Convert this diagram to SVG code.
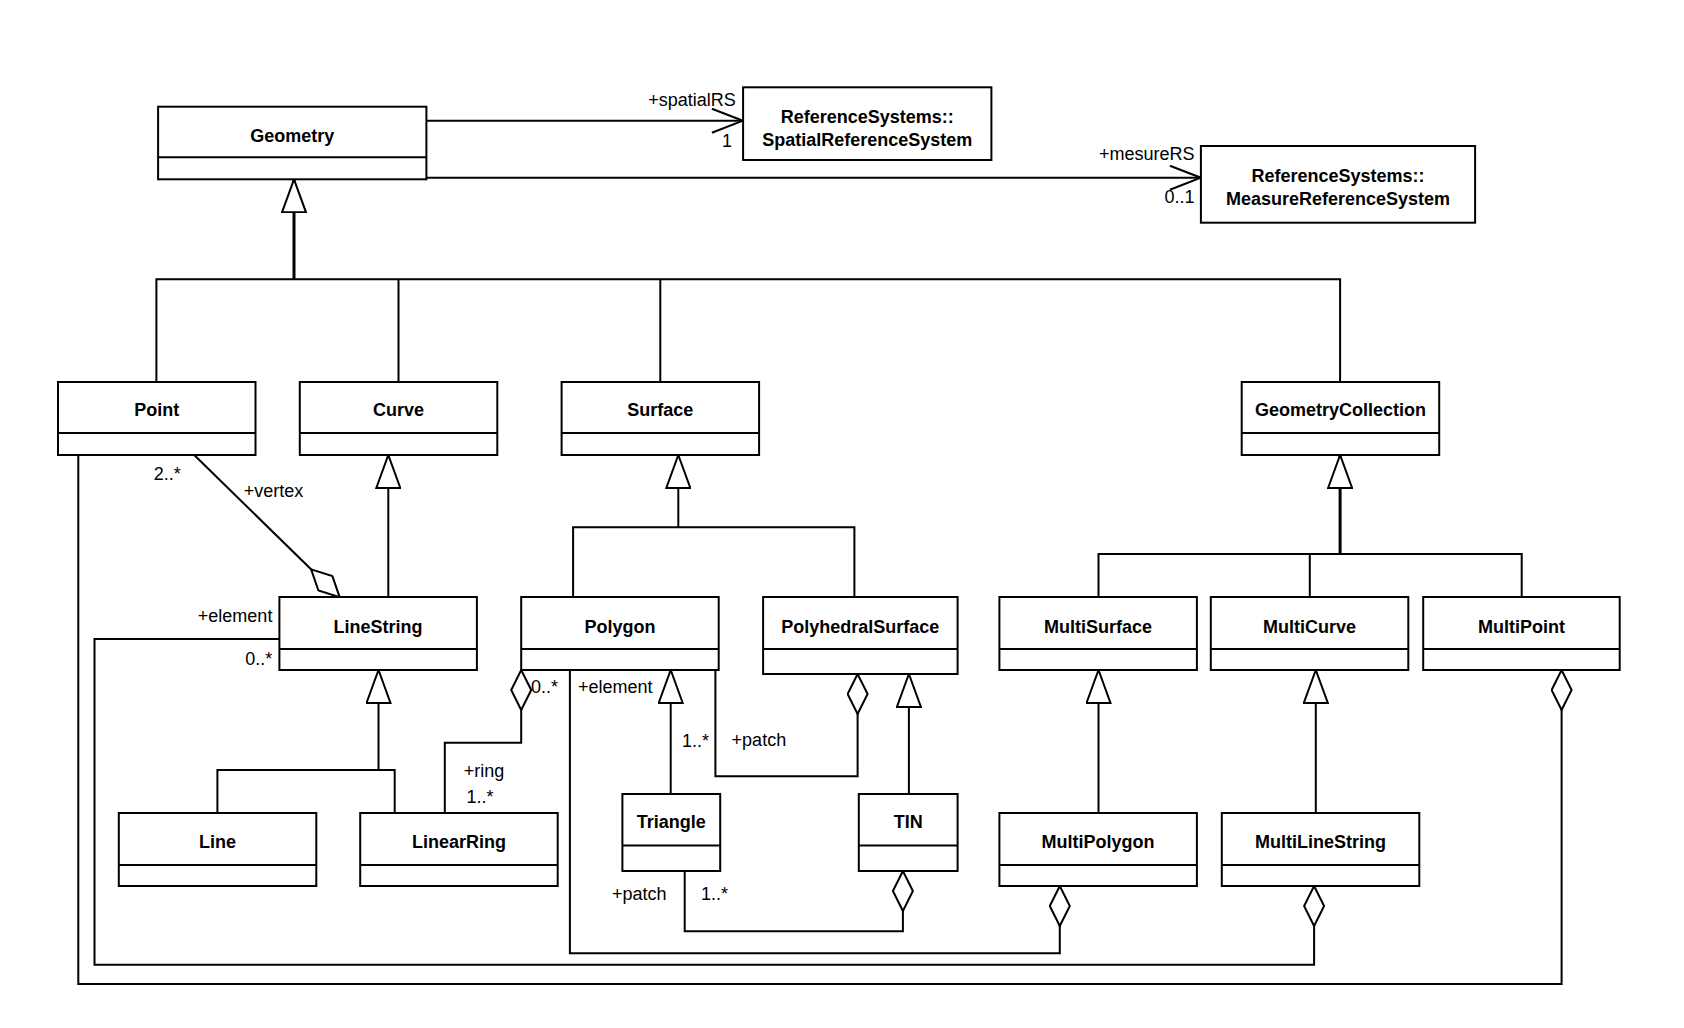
<svg xmlns="http://www.w3.org/2000/svg" width="1684" height="1028" viewBox="0 0 1684 1028">
<style>
.box{fill:#fff;stroke:#000;stroke-width:2}
.div{stroke:#000;stroke-width:2}
.name{font-family:"Liberation Sans",Arial,sans-serif;font-size:18px;font-weight:bold;text-anchor:middle;fill:#000}
.lbl{font-family:"Liberation Sans",Arial,sans-serif;font-size:18px;fill:#000}
.c{fill:none;stroke:#000;stroke-width:2}
.thick{stroke-width:3}
.gen{marker-end:url(#tri)}
.agg{marker-end:url(#dia)}
.nav{marker-end:url(#open)}
</style>
<defs>
<marker id="tri" viewBox="-1 -1 35 26" refX="33" refY="12" markerWidth="35" markerHeight="26" markerUnits="userSpaceOnUse" orient="auto">
<path d="M0,0 L33,12 L0,24 Z" fill="#fff" stroke="#000" stroke-width="2"/>
</marker>
<marker id="dia" viewBox="-1 -1 42 22" refX="40" refY="10" markerWidth="42" markerHeight="22" markerUnits="userSpaceOnUse" orient="auto">
<path d="M0,10 L20,0 L40,10 L20,20 Z" fill="#fff" stroke="#000" stroke-width="2"/>
</marker>
<marker id="open" viewBox="-1 -1 33 26" refX="31" refY="12" markerWidth="33" markerHeight="26" markerUnits="userSpaceOnUse" orient="auto">
<path d="M0,0 L31,12 L0,24" fill="none" stroke="#000" stroke-width="2"/>
</marker>
</defs>
<rect width="1684" height="1028" fill="#fff"/>
<g id="connectors">
<path class="c nav" d="M426.4,120.7 H742.9"/>
<path class="c nav" d="M426.4,177.7 H1200.9"/>
<path class="c thick gen" d="M294,279.3 V179.3"/>
<path class="c" d="M156.4,382 V279.3 H1340.1 V382 M398.5,382 V279.3 M660.3,382 V279.3"/>
<path class="c gen" d="M388.3,597 V455"/>
<path class="c gen" d="M678.3,527.3 V455"/>
<path class="c" d="M573.1,597 V527.3 H854.4 V597"/>
<path class="c thick gen" d="M1340.1,554 V455"/>
<path class="c" d="M1098.5,597 V554 H1521.7 V597 M1309.8,597 V554"/>
<path class="c gen" d="M378.5,770 V670"/>
<path class="c" d="M217.4,813 V770 H394.7 V813"/>
<path class="c gen" d="M670.7,794 V670"/>
<path class="c gen" d="M908.9,794 V674"/>
<path class="c gen" d="M1098.5,813 V670"/>
<path class="c gen" d="M1315.8,813 V670"/>
<path class="c agg" d="M194.2,455 L339.7,597.3"/>
<path class="c agg" d="M444.8,813 V742.7 H521.2 V670"/>
<path class="c agg" d="M715.4,670 V776.3 H857.6 V674"/>
<path class="c agg" d="M684.7,871 V931.3 H902.9 V871"/>
<path class="c agg" d="M569.9,670 V953.3 H1059.8 V886"/>
<path class="c agg" d="M279.4,639 H94.5 V964.7 H1314.1 V886"/>
<path class="c agg" d="M78.3,455 V984 H1561.6 V670"/>
</g>
<g id="labels">
<text class="lbl" x="735.9" y="105.5" text-anchor="end">+spatialRS</text>
<text class="lbl" x="732" y="147" text-anchor="end">1</text>
<text class="lbl" x="1194.5" y="159.5" text-anchor="end">+mesureRS</text>
<text class="lbl" x="1194.5" y="203" text-anchor="end">0..1</text>
<text class="lbl" x="167.2" y="479.5" text-anchor="middle">2..*</text>
<text class="lbl" x="243.8" y="496.5">+vertex</text>
<text class="lbl" x="272.4" y="622" text-anchor="end">+element</text>
<text class="lbl" x="272.4" y="664.5" text-anchor="end">0..*</text>
<text class="lbl" x="531.1" y="692.8">0..*</text>
<text class="lbl" x="577.9" y="692.8">+element</text>
<text class="lbl" x="682" y="747">1..*</text>
<text class="lbl" x="731.6" y="745.8">+patch</text>
<text class="lbl" x="463.7" y="777">+ring</text>
<text class="lbl" x="466.4" y="803">1..*</text>
<text class="lbl" x="612" y="899.5">+patch</text>
<text class="lbl" x="700.9" y="899.5">1..*</text>
</g>
<g id="Geometry"><rect class="box" x="158.1" y="106.7" width="268.3" height="72.6"/><line class="div" x1="158.1" y1="157.3" x2="426.4" y2="157.3"/><text class="name" x="292.3" y="141.5">Geometry</text></g>
<g id="SpatialReferenceSystem"><rect class="box" x="743.1" y="87.3" width="248.3" height="72.7"/><text class="name" x="867.3" y="122.5">ReferenceSystems::</text><text class="name" x="867.3" y="145.5">SpatialReferenceSystem</text></g>
<g id="MeasureReferenceSystem"><rect class="box" x="1200.9" y="146" width="274.2" height="76.7"/><text class="name" x="1338" y="181.5">ReferenceSystems::</text><text class="name" x="1338" y="204.5">MeasureReferenceSystem</text></g>
<g id="Point"><rect class="box" x="58" y="382" width="197.5" height="73"/><line class="div" x1="58" y1="433" x2="255.5" y2="433"/><text class="name" x="156.7" y="416">Point</text></g>
<g id="Curve"><rect class="box" x="299.8" y="382" width="197.5" height="73"/><line class="div" x1="299.8" y1="433" x2="497.3" y2="433"/><text class="name" x="398.5" y="416">Curve</text></g>
<g id="Surface"><rect class="box" x="561.6" y="382" width="197.5" height="73"/><line class="div" x1="561.6" y1="433" x2="759.1" y2="433"/><text class="name" x="660.3" y="416">Surface</text></g>
<g id="GeometryCollection"><rect class="box" x="1241.7" y="382" width="197.5" height="73"/><line class="div" x1="1241.7" y1="433" x2="1439.2" y2="433"/><text class="name" x="1340.4" y="416">GeometryCollection</text></g>
<g id="LineString"><rect class="box" x="279.4" y="597" width="197.5" height="73"/><line class="div" x1="279.4" y1="649" x2="476.9" y2="649"/><text class="name" x="378.1" y="632.5">LineString</text></g>
<g id="Polygon"><rect class="box" x="521.2" y="597" width="197.5" height="73"/><line class="div" x1="521.2" y1="649" x2="718.7" y2="649"/><text class="name" x="619.9" y="632.5">Polygon</text></g>
<g id="PolyhedralSurface"><rect class="box" x="763.1" y="597" width="194.5" height="77"/><line class="div" x1="763.1" y1="649" x2="957.6" y2="649"/><text class="name" x="860.3" y="632.5">PolyhedralSurface</text></g>
<g id="MultiSurface"><rect class="box" x="999.4" y="597" width="197.5" height="73"/><line class="div" x1="999.4" y1="649" x2="1196.9" y2="649"/><text class="name" x="1098.1" y="632.5">MultiSurface</text></g>
<g id="MultiCurve"><rect class="box" x="1210.8" y="597" width="197.5" height="73"/><line class="div" x1="1210.8" y1="649" x2="1408.3" y2="649"/><text class="name" x="1309.5" y="632.5">MultiCurve</text></g>
<g id="MultiPoint"><rect class="box" x="1423.2" y="597" width="196.5" height="73"/><line class="div" x1="1423.2" y1="649" x2="1619.7" y2="649"/><text class="name" x="1521.5" y="632.5">MultiPoint</text></g>
<g id="Line"><rect class="box" x="118.8" y="813" width="197.5" height="73"/><line class="div" x1="118.8" y1="865" x2="316.3" y2="865"/><text class="name" x="217.5" y="848">Line</text></g>
<g id="LinearRing"><rect class="box" x="360.2" y="813" width="197.5" height="73"/><line class="div" x1="360.2" y1="865" x2="557.7" y2="865"/><text class="name" x="459" y="848">LinearRing</text></g>
<g id="Triangle"><rect class="box" x="622.4" y="794" width="97.8" height="77"/><line class="div" x1="622.4" y1="845.5" x2="720.2" y2="845.5"/><text class="name" x="671.3" y="827.5">Triangle</text></g>
<g id="TIN"><rect class="box" x="858.8" y="794" width="98.8" height="77"/><line class="div" x1="858.8" y1="845.5" x2="957.6" y2="845.5"/><text class="name" x="908.2" y="827.5">TIN</text></g>
<g id="MultiPolygon"><rect class="box" x="999.4" y="813" width="197.5" height="73"/><line class="div" x1="999.4" y1="865" x2="1196.9" y2="865"/><text class="name" x="1098.1" y="848">MultiPolygon</text></g>
<g id="MultiLineString"><rect class="box" x="1221.8" y="813" width="197.5" height="73"/><line class="div" x1="1221.8" y1="865" x2="1419.3" y2="865"/><text class="name" x="1320.5" y="848">MultiLineString</text></g>
</svg>
